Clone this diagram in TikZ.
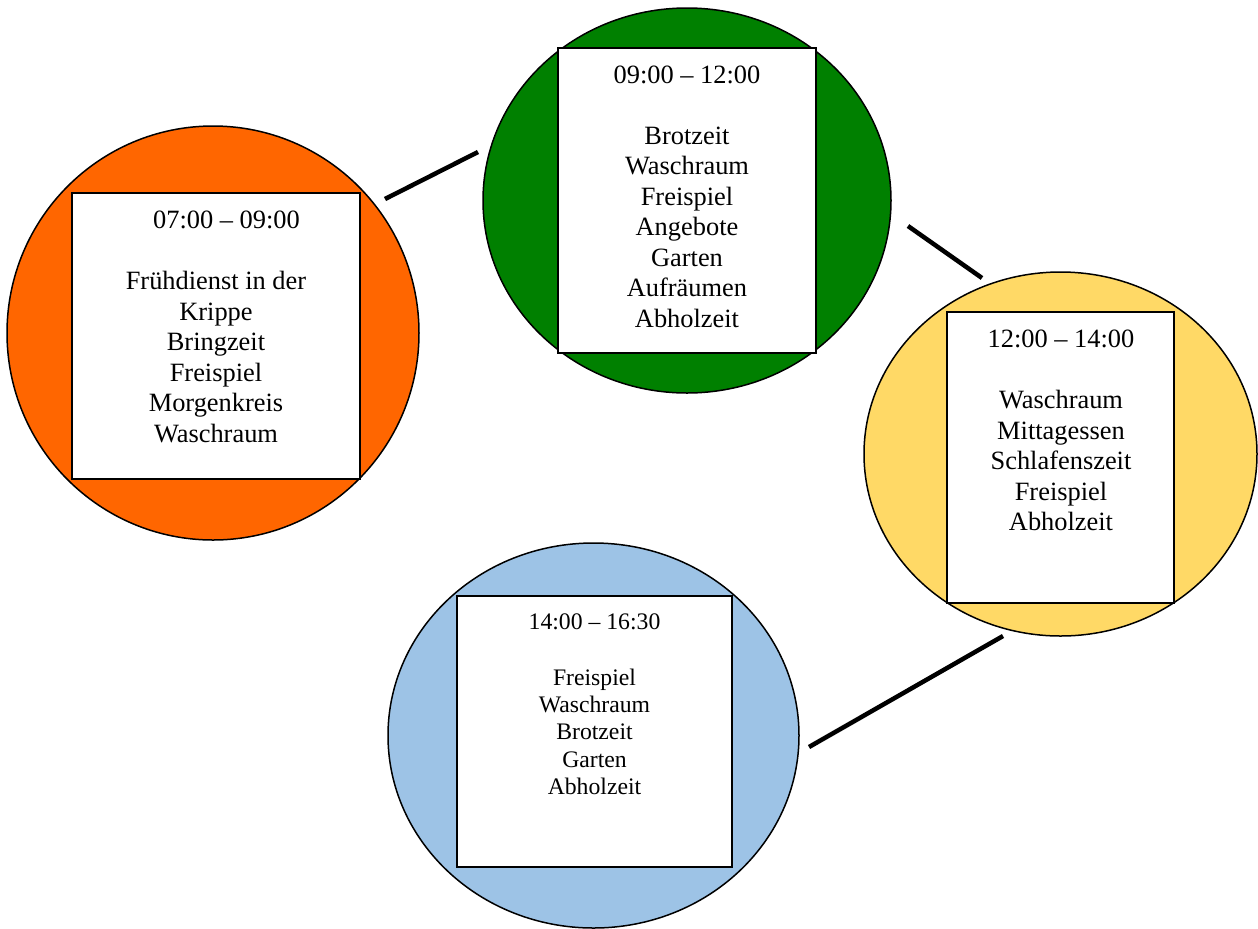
\documentclass[tikz,border=0pt]{standalone}
\usepackage{fontspec}
\setmainfont{Liberation Serif}
\usetikzlibrary{shapes.geometric}
\definecolor{kreisorange}{HTML}{FF6600}
\definecolor{kreisgruen}{HTML}{008000}
\definecolor{kreisgelb}{HTML}{FFD966}
\definecolor{kreisblau}{HTML}{9DC3E6}

\begin{document}
\begin{tikzpicture}[x=0.5pt,y=-0.5pt,
  kreis/.style={draw,ellipse,line width=0.75pt,inner sep=0pt,outer sep=0pt},
  kasten/.style={draw,rectangle,fill=white,line width=1pt,inner sep=0pt},
  plan/.style={align=center,inner sep=0pt,anchor=north,font=\fontsize{13.2}{15.25}\selectfont},
  plan klein/.style={plan,font=\fontsize{11.85}{13.6}\selectfont},
  verbindung/.style={line width=2.25pt}]
\useasboundingbox (0,0) rectangle (1258,928);

% Kreise
\node[kreis,fill=kreisorange,minimum width=206pt,minimum height=207pt] (frueh) at (213,333) {};
\node[kreis,fill=kreisgruen,minimum width=204pt,minimum height=192.5pt] (vormittag) at (687,200.5) {};
\node[kreis,fill=kreisgelb,minimum width=196.5pt,minimum height=182pt] (mittag) at (1060.5,454) {};
\node[kreis,fill=kreisblau,minimum width=205.5pt,minimum height=192.5pt] (nachmittag) at (593.5,735.5) {};

% Kaesten
\node[kasten,minimum width=144pt,minimum height=143pt] (fruehbox) at (216,336) {};
\node[kasten,minimum width=129pt,minimum height=152.5pt] (vormittagbox) at (687,200.5) {};
\node[kasten,minimum width=113.5pt,minimum height=145.5pt] (mittagbox) at (1060.5,457.5) {};
\node[kasten,minimum width=137.5pt,minimum height=135.5pt] (nachmittagbox) at (594.5,731.5) {};

% Texte
\node[plan] (fruehtext) at (216,207) {\hspace*{10.5pt}\strut 07:00 – 09:00\\[15.25pt]
  Frühdienst in der\\ Krippe\\ Bringzeit\\ Freispiel\\ Morgenkreis\\ Waschraum};
\node[plan] (vormittagtext) at (687,61.6) {\strut 09:00 – 12:00\\[15.25pt]
  Brotzeit\\ Waschraum\\ Freispiel\\ Angebote\\ Garten\\ Aufräumen\\ Abholzeit};
\node[plan] (mittagtext) at (1061,326) {\strut 12:00 – 14:00\\[15.25pt]
  Waschraum\\ Mittagessen\\ Schlafenszeit\\ Freispiel\\ Abholzeit};
\node[plan klein] (nachmittagtext) at (594.5,610) {\strut 14:00 – 16:30\\[14.4pt]
  Freispiel\\ Waschraum\\ Brotzeit\\ Garten\\ Abholzeit};

% Verbindungen
\coordinate (v1) at (385,199);
\coordinate (v2) at (478,152);
\coordinate (v3) at (908,226);
\coordinate (v4) at (982,278);
\coordinate (v5) at (1003,636);
\coordinate (v6) at (809,747);
\draw[verbindung] (v1) -- (v2);
\draw[verbindung] (v3) -- (v4);
\draw[verbindung] (v5) -- (v6);
\end{tikzpicture}
\end{document}
